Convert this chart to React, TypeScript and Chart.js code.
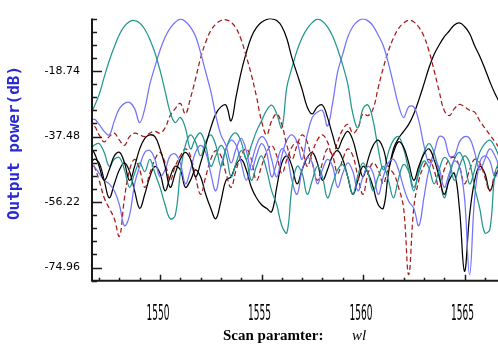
import React, { useEffect, useRef } from "react";
import { Chart, registerables } from "chart.js";

Chart.register(...registerables);

// Wavelength grid (nm)
const wl = [
  1546.5, 1546.75, 1547.0, 1547.25, 1547.5, 1547.75, 1548.0, 1548.25, 1548.5, 1548.75,
  1549.0, 1549.25, 1549.5, 1549.75, 1550.0, 1550.25, 1550.5, 1550.75, 1551.0, 1551.25,
  1551.5, 1551.75, 1552.0, 1552.25, 1552.5, 1552.75, 1553.0, 1553.25, 1553.5, 1553.75,
  1554.0, 1554.25, 1554.5, 1554.75, 1555.0, 1555.25, 1555.5, 1555.75, 1556.0, 1556.25,
  1556.5, 1556.75, 1557.0, 1557.25, 1557.5, 1557.75, 1558.0, 1558.25, 1558.5, 1558.75,
  1559.0, 1559.25, 1559.5, 1559.75, 1560.0, 1560.25, 1560.5, 1560.75, 1561.0, 1561.25,
  1561.5, 1561.75, 1562.0, 1562.25, 1562.5, 1562.75, 1563.0, 1563.25, 1563.5, 1563.75,
  1564.0, 1564.25, 1564.5, 1564.75, 1565.0, 1565.25, 1565.5, 1565.75, 1566.0, 1566.25,
  1566.5, 1566.75,
];

// Output ports (dB)
const ch1 = [
  -32, -29, -25.5, -20.5, -15.8, -11.8, -8.3, -5.9, -4.6, -4.3,
  -5.0, -6.8, -9.7, -13.5, -18.5, -24.5, -30.5, -33.5, -32, -35,
  -41, -38, -36.5, -40, -46, -43, -40, -42.5, -49, -45,
  -41.5, -44, -50, -46, -43, -47, -53, -57, -63, -65,
  -52, -46, -48, -54, -50, -46, -49, -55, -51, -47,
  -45.5, -49, -54, -48.5, -45, -48, -53, -49, -46, -50,
  -55, -49.5, -45.5, -47.5, -52, -48, -44.5, -46.5, -51, -47,
  -43.5, -45, -50, -46, -43, -45, -52, -58, -65, -64,
  -48, -44,
];
const ch2 = [
  -34, -32.5, -34, -36, -37, -33, -29.5, -28, -27.7, -29.5,
  -33.5, -29.5, -22.5, -17.5, -12.8, -9.1, -6.5, -4.8, -3.9, -4.6,
  -6.2, -8.8, -13.5, -19, -24.5, -31.5, -37, -40, -45, -41,
  -38, -41.5, -47, -43, -39.5, -42, -49, -45, -41, -43,
  -50, -54, -47, -43.5, -45, -51, -47, -44, -46, -52,
  -48, -45, -47.5, -53, -49, -46, -48, -54, -49, -45,
  -44, -47, -52, -56, -58, -63, -55, -47, -44, -46.5,
  -52, -48, -44.5, -46, -55, -77, -55, -45, -43, -44.5,
  -49, -46,
];
const ch3 = [
  -36, -34.5, -37, -39, -37.5, -36.5, -38.5, -40, -37.5, -36.5,
  -37, -37.5, -36.5, -36, -36.5, -35, -31.5, -29.5, -28, -31,
  -26.5, -21, -15, -10.5, -7.2, -5.3, -4.3, -4.1, -4.8, -6.5,
  -9.8, -14.5, -19.8, -26, -33, -37, -33, -31, -34, -40,
  -44, -40, -37, -39, -45, -50, -45, -41, -43, -48,
  -44, -41, -43, -49, -54, -48, -45, -47, -51, -47,
  -48, -52, -58, -77, -58, -50, -46, -44, -47, -52,
  -47, -44, -43.5, -46, -51, -47, -44, -45, -49, -53,
  -48, -45,
];
const ch4 = [
  -40.5, -42, -46, -50, -47, -43, -42, -45, -50, -46,
  -41, -38, -37, -37.5, -41, -46, -52, -48, -44, -42,
  -44, -49, -45, -40, -35, -31, -29, -28.5, -33, -26,
  -19, -13.5, -9, -6.3, -4.8, -4.0, -3.8, -4.3, -6.0, -9.5,
  -15, -19.5, -24, -29, -31, -29, -28.5, -32, -37, -41,
  -38, -36, -38.5, -44, -49, -44, -40, -38.5, -41, -46,
  -42, -39, -40.5, -45, -50, -46, -42.5, -41, -44, -49,
  -54, -50, -48, -58, -76, -60, -50, -46, -48, -53,
  -49, -46,
];
const ch5 = [
  -41, -40, -39.5, -42, -46, -44, -43.5, -47, -52, -48,
  -45, -47.5, -44, -48, -52, -57, -61, -60, -48, -40,
  -37, -39, -43, -39, -37, -40, -46, -41, -37.5, -36.5,
  -39, -44, -40, -36, -33, -30, -28.5, -31, -35, -23.3,
  -17.8, -12.9, -9.2, -6.6, -4.9, -3.9, -4.5, -6.1, -8.7, -12.5,
  -17, -22.5, -31, -35, -29.5, -28.5, -33, -41, -47, -42,
  -38.5, -37.5, -41, -47, -53, -47, -42, -39.5, -42, -48,
  -55, -49, -44, -42, -45, -51, -47, -42, -39.5, -38.5,
  -40.5, -44,
];
const ch6 = [
  -45, -46, -48, -50, -51, -53, -57, -63, -60, -51,
  -46, -42, -41.5, -44, -49, -47, -43, -42.5, -45, -51,
  -47, -42, -40, -42, -48, -53, -46, -41, -38.5, -40,
  -45, -50, -45, -40, -37.5, -39, -44, -49, -43, -38.5,
  -37, -39, -44, -37, -32, -30.5, -30, -34.5, -28, -19,
  -14, -9, -6, -4.4, -3.8, -4.4, -5.9, -8.5, -11.5, -16.5,
  -22.5, -28.5, -32, -29, -29, -33, -40, -45, -42, -37.5,
  -38, -43, -43, -39, -37.5, -38, -42, -47, -44, -41,
  -43, -47,
];
const ch7 = [
  -44, -46, -50, -55, -58, -61, -66, -55, -47, -44,
  -47, -52, -48, -44, -42, -45, -50, -46, -43, -41,
  -43, -49, -54, -49, -44, -41.5, -43, -48, -52, -47,
  -43, -41, -44, -50, -46, -42, -40, -43, -48, -44,
  -40.5, -39, -41, -46, -42, -38.5, -37, -39, -43, -39,
  -35.5, -34, -36.5, -35, -31, -31.5, -29.5, -23.5, -17.8, -13,
  -9.3, -6.6, -5.0, -4.2, -4.7, -6.2, -8.8, -13, -18.5, -24.5,
  -30, -31.5, -29.5, -28.3, -29, -30, -30.5, -33, -35, -37,
  -39, -41,
];
const ch8 = [
  -47, -44, -45, -50, -55, -51, -47, -45, -47.5, -53,
  -58, -54, -49, -46, -48, -53, -49, -46, -47, -52,
  -50, -47, -49, -54, -58, -61, -56, -50, -49, -45.5,
  -44, -47, -52, -55, -57, -58, -59, -52, -45, -43,
  -46, -51, -47, -43.5, -42, -45, -50, -47, -43, -41.5,
  -44, -49, -54, -50, -46, -48, -52, -57, -58, -48,
  -41, -38, -36, -34, -31, -27, -22.5, -17.8, -14, -11.3,
  -9, -7.3, -5.6, -5.0, -6.0, -8, -11.5, -14.5, -18, -21.8,
  -25.2, -28,
];

const yTickValues = [-74.96, -56.22, -37.48, -18.74];
const yTickLabels = ["-74.96", "-56.22", "-37.48", "-18.74"];
const xTickValues = [1550, 1555, 1560, 1565];
const xTickLabels = ["1550", "1555", "1560", "1565"];
const xTitle = "Scan paramter:";
const xTitleVar = "wl";
const yTitle = "Output power(dB)";

const TEAL = "#22968f";
const BLUE = "#7373fb";
const RED = "#a51c1c";
const BLACK = "#000000";

const series = [
  { data: ch1, color: TEAL, dash: [] as number[] },
  { data: ch2, color: BLUE, dash: [] as number[] },
  { data: ch3, color: RED, dash: [5, 3] },
  { data: ch4, color: BLACK, dash: [] as number[] },
  { data: ch5, color: TEAL, dash: [] as number[] },
  { data: ch6, color: BLUE, dash: [] as number[] },
  { data: ch7, color: RED, dash: [5, 3] },
  { data: ch8, color: BLACK, dash: [] as number[] },
];

const decor = {
  id: "decor",
  afterDraw(chart: any) {
    const { ctx, chartArea, scales } = chart;
    const xs = scales.x;
    const ys = scales.y;
    ctx.save();
    ctx.strokeStyle = "#1a1a1a";
    ctx.lineWidth = 2;
    ctx.beginPath();
    ctx.moveTo(chartArea.left, chartArea.top);
    ctx.lineTo(chartArea.left, chartArea.bottom + 1);
    ctx.moveTo(chartArea.left - 1, chartArea.bottom);
    ctx.lineTo(chartArea.right, chartArea.bottom);
    ctx.stroke();

    // y ticks (inside)
    ctx.lineWidth = 1.5;
    const step = (yTickValues[1] - yTickValues[0]) / 5;
    ctx.beginPath();
    for (let k = 0; k <= 20; k++) {
      const v = ys.max - k * step;
      if (v < ys.min - 1e-6) break;
      const isMajor = yTickValues.some((t) => Math.abs(t - v) < 1e-3);
      const py = Math.round(ys.getPixelForValue(v)) + 0.5;
      ctx.moveTo(chartArea.left, py);
      ctx.lineTo(chartArea.left + (isMajor ? 10 : 5), py);
    }
    ctx.stroke();

    // x ticks (inside)
    ctx.beginPath();
    for (let v = Math.ceil(xs.min); v <= xs.max; v++) {
      const isMajor = xTickValues.includes(v);
      const px = Math.round(xs.getPixelForValue(v)) + 0.5;
      ctx.moveTo(px, chartArea.bottom);
      ctx.lineTo(px, chartArea.bottom - (isMajor ? 6 : 3));
    }
    ctx.stroke();

    // x tick labels (condensed)
    ctx.fillStyle = "#000";
    ctx.font = '22px "DejaVu Sans"';
    ctx.textAlign = "center";
    ctx.textBaseline = "alphabetic";
    xTickValues.forEach((v, i) => {
      const px = xs.getPixelForValue(v);
      ctx.save();
      ctx.translate(px - 2, 320);
      ctx.scale(0.41, 1);
      ctx.fillText(xTickLabels[i], 0, 0);
      ctx.restore();
    });

    // x title
    ctx.textAlign = "left";
    ctx.font = 'bold 15px "Liberation Serif"';
    ctx.fillText(xTitle, 223, 340);
    ctx.font = 'italic 15px "Liberation Serif"';
    ctx.fillText(xTitleVar, 352, 340);

    // y title
    ctx.save();
    ctx.translate(15, 143);
    ctx.rotate(-Math.PI / 2);
    ctx.fillStyle = "#2a2ad2";
    ctx.font = 'bold 16px "DejaVu Sans Mono"';
    ctx.textAlign = "center";
    ctx.textBaseline = "middle";
    ctx.fillText(yTitle, 0, 0);
    ctx.restore();

    ctx.restore();
  },
};

export default function App() {
  const ref = useRef<HTMLCanvasElement>(null);
  useEffect(() => {
    if (!ref.current) return;
    const chart = new Chart(ref.current, {
      type: "line",
      data: {
        datasets: series.map((s, i) => ({
          label: "port " + (i + 1),
          data: wl.map((x, j) => ({ x, y: s.data[j] })),
          borderColor: s.color,
          borderWidth: 1.25,
          borderDash: s.dash,
          pointRadius: 0,
          tension: 0.4,
          fill: false,
          clip: 0,
        })),
      },
      options: {
        animation: false,
        responsive: false,
        devicePixelRatio: 1,
        layout: { padding: { top: 10.7, left: 0, right: 0, bottom: 0 } },
        plugins: { legend: { display: false }, tooltip: { enabled: false } },
        scales: {
          x: {
            type: "linear",
            min: 1546.65,
            max: 1566.65,
            grid: { display: false, drawTicks: false },
            border: { display: false },
            ticks: { display: false },
            afterFit: (s: any) => {
              s.height = 64.3;
            },
          },
          y: {
            type: "linear",
            min: -78.708,
            max: -3.748,
            grid: { display: false, drawTicks: false },
            border: { display: false },
            afterBuildTicks: (s: any) => {
              s.ticks = yTickValues.map((v) => ({ value: v }));
            },
            ticks: {
              color: "#000",
              padding: 12,
              font: { family: "DejaVu Sans", size: 11 },
              callback: (_v: any, i: number) => yTickLabels[i],
            },
            afterFit: (s: any) => {
              s.width = 92;
            },
          },
        },
      },
      plugins: [decor],
    });
    return () => chart.destroy();
  }, []);
  return (
    <div style={{ position: "absolute", left: 0, top: 0, width: 498, height: 345, background: "#fff" }}>
      <canvas ref={ref} width={498} height={345} style={{ display: "block", width: 498, height: 345 }} />
    </div>
  );
}
